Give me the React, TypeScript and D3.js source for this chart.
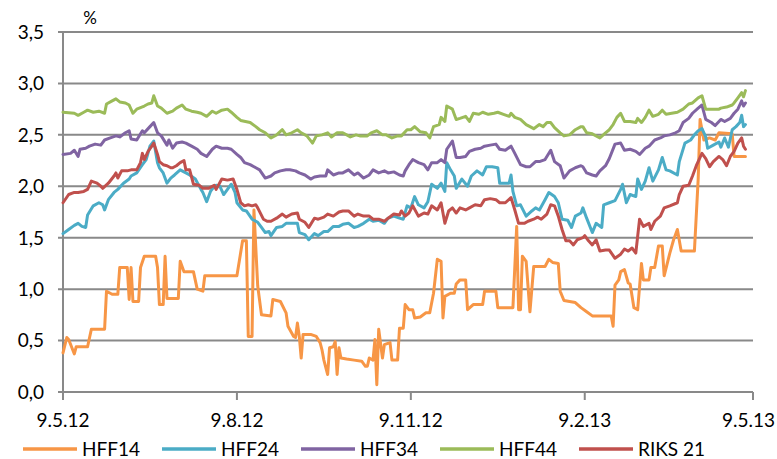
import React from "react";
import * as d3 from "d3";

// Day offsets from 9.5.2012 and yields (%)
const HFF14: [number, number][] = [[0,0.38],[2,0.53],[3,0.51],[6,0.37],[7,0.44],[13,0.44],[15,0.61],[22,0.61],[23,0.98],[26,0.95],[29,0.95],[30,1.21],[34,1.21],[35,0.90],[36,1.21],[37,0.88],[40,0.88],[41,1.21],[43,1.32],[49,1.32],[50,1.21],[51,0.85],[53,0.85],[54,1.32],[55,0.91],[61,0.91],[62,1.27],[64,1.17],[69,1.17],[71,1.00],[74,0.98],[75,1.13],[92,1.13],[95,1.47],[97,1.47],[98,0.54],[100,0.54],[101,1.77],[103,1.03],[105,0.75],[110,0.74],[111,0.90],[115,0.88],[118,0.77],[119,0.64],[122,0.54],[123,0.53],[124,0.67],[125,0.54],[126,0.33],[127,0.56],[131,0.56],[134,0.54],[136,0.48],[137,0.41],[138,0.31],[140,0.17],[141,0.43],[143,0.44],[144,0.49],[145,0.17],[146,0.43],[147,0.33],[150,0.32],[154,0.31],[158,0.30],[160,0.25],[161,0.25],[162,0.33],[164,0.31],[165,0.51],[166,0.07],[167,0.61],[169,0.33],[170,0.46],[173,0.48],[174,0.31],[177,0.31],[178,0.62],[180,0.62],[181,0.85],[183,0.80],[185,0.80],[186,0.72],[189,0.73],[192,0.77],[194,0.77],[196,0.96],[198,1.29],[200,1.27],[201,0.72],[202,0.93],[205,0.96],[207,0.96],[208,1.05],[210,1.09],[213,1.09],[214,0.80],[217,0.85],[222,0.85],[223,0.98],[229,0.98],[230,0.82],[238,0.82],[240,1.61],[241,0.80],[242,0.80],[243,1.32],[245,1.27],[247,0.78],[249,1.22],[255,1.22],[257,1.29],[259,1.26],[262,1.25],[263,0.98],[265,0.89],[268,0.88],[271,0.87],[274,0.82],[277,0.78],[280,0.74],[290,0.74],[291,0.64],[292,1.04],[294,1.09],[295,1.17],[297,1.19],[299,1.06],[300,1.05],[302,0.82],[304,0.80],[306,1.25],[307,1.09],[310,1.09],[311,1.21],[313,1.21],[315,1.42],[317,1.42],[318,1.13],[321,1.35],[323,1.48],[325,1.58],[327,1.37],[334,1.37],[336,2.07],[337,2.65],[339,2.45],[342,2.47],[345,2.45],[347,2.52],[354,2.51],[355,2.29],[361,2.29]];

const HFF24: [number, number][] = [[0,1.54],[3,1.58],[6,1.62],[8,1.64],[10,1.61],[12,1.60],[13,1.72],[16,1.81],[19,1.84],[21,1.82],[22,1.77],[24,1.87],[27,1.94],[29,1.97],[32,2.03],[35,2.07],[36,2.10],[39,2.13],[42,2.21],[44,2.26],[46,2.39],[48,2.44],[50,2.23],[51,2.18],[53,2.13],[55,2.03],[57,2.08],[59,2.11],[62,2.16],[65,2.13],[67,2.11],[70,2.07],[73,1.97],[74,1.94],[76,1.85],[78,1.95],[80,2.00],[81,2.01],[83,2.00],[85,1.92],[87,1.97],[89,2.02],[91,1.94],[92,1.84],[95,1.77],[97,1.76],[100,1.68],[103,1.65],[105,1.60],[107,1.55],[109,1.56],[110,1.52],[113,1.60],[116,1.61],[118,1.64],[121,1.64],[124,1.64],[125,1.55],[128,1.53],[130,1.48],[133,1.54],[135,1.52],[138,1.56],[140,1.56],[143,1.61],[146,1.61],[148,1.63],[151,1.64],[154,1.60],[156,1.61],[159,1.64],[162,1.68],[164,1.66],[167,1.67],[170,1.64],[172,1.69],[175,1.71],[178,1.69],[180,1.68],[182,1.81],[184,1.79],[186,1.90],[188,1.82],[191,1.79],[193,1.85],[195,2.02],[198,1.98],[200,2.03],[202,1.95],[203,2.23],[205,2.16],[207,2.10],[208,1.98],[211,2.07],[214,2.00],[216,2.10],[219,2.15],[222,2.11],[224,2.19],[227,2.19],[230,2.18],[231,2.03],[234,2.03],[236,2.03],[237,2.11],[238,1.95],[240,1.81],[242,1.82],[245,1.71],[248,1.76],[250,1.79],[252,1.77],[255,1.87],[257,1.94],[260,1.90],[262,1.84],[264,1.68],[267,1.67],[269,1.60],[271,1.71],[274,1.74],[275,1.79],[277,1.69],[280,1.55],[282,1.64],[285,1.60],[286,1.82],[289,1.84],[292,1.86],[295,1.97],[296,2.02],[298,1.84],[300,1.92],[303,1.90],[304,2.07],[306,1.97],[308,2.05],[310,2.18],[312,2.05],[315,2.16],[317,2.28],[319,2.16],[321,2.15],[325,2.11],[326,2.24],[329,2.42],[332,2.45],[334,2.50],[336,2.54],[338,2.56],[340,2.48],[341,2.37],[344,2.40],[347,2.43],[348,2.38],[350,2.47],[352,2.38],[354,2.55],[356,2.58],[358,2.62],[359,2.69],[360,2.58],[361,2.60]];

const HFF34: [number, number][] = [[0,2.31],[4,2.32],[6,2.35],[8,2.29],[9,2.36],[12,2.37],[14,2.39],[17,2.41],[20,2.40],[22,2.45],[25,2.47],[28,2.49],[30,2.48],[33,2.52],[35,2.54],[36,2.46],[39,2.45],[42,2.54],[43,2.52],[46,2.58],[48,2.62],[50,2.52],[52,2.49],[55,2.40],[56,2.45],[58,2.37],[60,2.42],[63,2.43],[65,2.42],[68,2.39],[71,2.36],[73,2.32],[76,2.29],[79,2.36],[81,2.39],[84,2.37],[87,2.37],[89,2.36],[92,2.31],[94,2.28],[96,2.23],[99,2.21],[102,2.18],[104,2.16],[107,2.08],[110,2.10],[112,2.13],[115,2.15],[118,2.16],[120,2.16],[123,2.15],[125,2.13],[128,2.11],[131,2.07],[133,2.09],[136,2.10],[139,2.10],[140,2.16],[143,2.11],[146,2.13],[148,2.13],[151,2.16],[154,2.11],[156,2.13],[159,2.08],[162,2.11],[164,2.16],[167,2.13],[170,2.15],[172,2.13],[175,2.14],[178,2.11],[180,2.10],[181,2.15],[183,2.21],[185,2.26],[188,2.23],[191,2.21],[193,2.16],[195,2.23],[198,2.23],[200,2.26],[202,2.23],[203,2.36],[206,2.44],[208,2.28],[210,2.28],[213,2.29],[215,2.34],[218,2.36],[221,2.37],[223,2.39],[226,2.40],[229,2.41],[231,2.36],[234,2.35],[237,2.39],[239,2.32],[242,2.21],[245,2.19],[247,2.19],[250,2.24],[252,2.24],[255,2.26],[258,2.35],[260,2.24],[263,2.20],[265,2.08],[268,2.15],[271,2.18],[274,2.20],[275,2.19],[277,2.13],[280,2.11],[282,2.10],[284,2.15],[287,2.20],[289,2.27],[292,2.41],[295,2.42],[297,2.35],[300,2.36],[303,2.34],[305,2.31],[308,2.37],[310,2.39],[313,2.45],[316,2.47],[318,2.49],[321,2.50],[324,2.52],[326,2.54],[328,2.62],[331,2.66],[333,2.71],[336,2.76],[338,2.79],[340,2.65],[343,2.62],[345,2.59],[348,2.65],[350,2.63],[353,2.66],[355,2.71],[357,2.75],[359,2.83],[360,2.78],[361,2.81]];

const HFF44: [number, number][] = [[0,2.72],[6,2.71],[8,2.69],[11,2.72],[13,2.74],[16,2.72],[19,2.73],[22,2.71],[23,2.80],[26,2.83],[28,2.85],[30,2.82],[33,2.81],[35,2.79],[37,2.71],[39,2.75],[43,2.78],[45,2.80],[47,2.81],[48,2.88],[50,2.78],[52,2.76],[55,2.71],[58,2.73],[60,2.76],[63,2.79],[65,2.75],[68,2.73],[71,2.72],[73,2.71],[76,2.68],[79,2.73],[81,2.71],[84,2.74],[87,2.75],[89,2.72],[92,2.67],[94,2.64],[99,2.62],[102,2.58],[104,2.55],[107,2.52],[110,2.47],[113,2.50],[116,2.55],[118,2.50],[121,2.52],[124,2.55],[126,2.52],[129,2.49],[132,2.42],[134,2.49],[137,2.50],[140,2.52],[142,2.48],[145,2.52],[148,2.52],[152,2.48],[155,2.50],[157,2.49],[161,2.49],[163,2.52],[166,2.54],[169,2.50],[171,2.50],[174,2.47],[177,2.49],[179,2.49],[182,2.55],[184,2.55],[186,2.58],[189,2.53],[192,2.52],[194,2.47],[196,2.58],[199,2.60],[200,2.67],[202,2.63],[203,2.78],[206,2.75],[208,2.65],[210,2.66],[213,2.68],[215,2.63],[217,2.71],[220,2.70],[222,2.72],[225,2.70],[228,2.71],[230,2.72],[233,2.70],[236,2.68],[237,2.71],[239,2.67],[242,2.65],[245,2.60],[247,2.58],[249,2.56],[252,2.60],[254,2.58],[256,2.62],[258,2.62],[260,2.57],[263,2.52],[265,2.49],[268,2.50],[271,2.55],[274,2.58],[275,2.58],[277,2.52],[280,2.51],[284,2.47],[287,2.52],[289,2.55],[291,2.60],[293,2.67],[295,2.71],[297,2.63],[300,2.63],[303,2.62],[304,2.66],[306,2.62],[308,2.67],[310,2.74],[312,2.68],[315,2.70],[317,2.74],[319,2.70],[322,2.71],[325,2.72],[328,2.75],[331,2.80],[333,2.81],[336,2.86],[338,2.88],[340,2.75],[343,2.75],[347,2.75],[348,2.76],[351,2.77],[354,2.79],[355,2.81],[357,2.86],[359,2.91],[360,2.87],[361,2.93]];

const RIKS21: [number, number][] = [[0,1.84],[3,1.92],[6,1.94],[8,1.94],[11,1.95],[13,1.97],[15,2.05],[18,2.03],[20,2.00],[21,1.98],[24,2.03],[27,2.10],[28,2.13],[29,2.08],[31,2.15],[34,2.15],[36,2.16],[39,2.16],[41,2.23],[42,2.32],[43,2.26],[45,2.34],[47,2.39],[48,2.42],[50,2.31],[51,2.24],[53,2.21],[55,2.20],[57,2.18],[58,2.18],[60,2.20],[62,2.23],[64,2.25],[65,2.16],[67,2.16],[69,2.02],[72,2.01],[74,1.98],[77,1.98],[80,2.01],[81,1.97],[84,2.07],[87,2.06],[90,2.07],[92,1.97],[94,1.84],[96,1.81],[98,1.82],[100,1.81],[102,1.82],[103,1.79],[106,1.68],[108,1.66],[110,1.66],[113,1.69],[116,1.73],[118,1.70],[121,1.73],[124,1.74],[125,1.68],[128,1.65],[130,1.60],[133,1.69],[135,1.68],[138,1.70],[140,1.73],[143,1.71],[146,1.75],[148,1.76],[151,1.76],[154,1.71],[156,1.73],[159,1.71],[162,1.71],[164,1.68],[167,1.68],[170,1.66],[172,1.69],[175,1.73],[178,1.72],[179,1.76],[181,1.71],[183,1.74],[185,1.81],[188,1.71],[191,1.74],[193,1.73],[195,1.81],[198,1.77],[200,1.84],[202,1.64],[204,1.76],[206,1.79],[208,1.74],[210,1.79],[213,1.77],[215,1.79],[218,1.82],[221,1.81],[223,1.87],[226,1.88],[229,1.87],[231,1.84],[234,1.84],[237,1.89],[239,1.77],[241,1.64],[244,1.64],[246,1.66],[249,1.68],[251,1.70],[253,1.68],[256,1.73],[258,1.82],[260,1.81],[262,1.71],[264,1.58],[266,1.47],[268,1.47],[270,1.43],[272,1.48],[275,1.50],[276,1.52],[278,1.47],[280,1.43],[282,1.48],[284,1.37],[287,1.38],[289,1.38],[292,1.30],[295,1.34],[297,1.39],[299,1.37],[301,1.40],[303,1.35],[305,1.68],[307,1.61],[310,1.64],[311,1.58],[313,1.66],[316,1.71],[318,1.79],[321,1.81],[325,1.84],[326,1.92],[328,2.00],[331,2.01],[333,2.10],[335,2.20],[338,2.32],[340,2.27],[342,2.19],[344,2.24],[347,2.29],[349,2.26],[351,2.20],[353,2.29],[355,2.34],[357,2.42],[359,2.47],[360,2.39],[361,2.36]];

const SERIES_NAMES = ["HFF14", "HFF24", "HFF34", "HFF44", "RIKS 21"];
const SERIES_DATA = [HFF14, HFF24, HFF34, HFF44, RIKS21];
const SERIES_COLORS = ["#F79646", "#4BACC6", "#8064A2", "#9BBB59", "#C0504D"];

const START_DATE = new Date(2012, 4, 9);
const END_DATE = new Date(2013, 4, 9);
const X_TICKS = [new Date(2012, 4, 9), new Date(2012, 7, 9), new Date(2012, 10, 9), new Date(2013, 1, 9), new Date(2013, 4, 9)];
const Y_TICKS = [0, 0.5, 1, 1.5, 2, 2.5, 3, 3.5];
const Y_UNIT = "%";

const W = 777;
const H = 459;
const M = { left: 63, right: 24, top: 32, bottom: 67 };
const FONT = "Lato, 'Open Sans', sans-serif";
const GRID = "#898989";

export default function App() {
  const x = d3.scaleTime().domain([START_DATE, END_DATE]).range([M.left, W - M.right]);
  const y = d3.scaleLinear().domain([0, 3.5]).range([H - M.bottom, M.top]);
  const fmtX = d3.timeFormat("%-d.%-m.%y");
  const fmtY = (v: number) => d3.format(".1f")(v).replace(".", ",");
  const line = d3
    .line<[number, number]>()
    .x((d) => x(d3.timeDay.offset(START_DATE, d[0])))
    .y((d) => y(d[1]));

  const legendStep = 139;
  const legendX0 = 23;
  const legendY = 449;
  const lastTick = X_TICKS.length - 1;

  return (
    <svg width={W} height={H} style={{ position: "absolute", left: 0, top: 0, background: "#fff" }} fontFamily={FONT}>
      {Y_TICKS.map((t) => (
        <g key={"g" + t}>
          <line x1={M.left - 5} x2={W - M.right} y1={y(t)} y2={y(t)} stroke={GRID} strokeWidth={2} />
          <text x={44} y={y(t)} dy="0.36em" textAnchor="end" fontSize={19} fill="#000">
            {fmtY(t)}
          </text>
        </g>
      ))}
      <line x1={M.left} x2={M.left} y1={y(3.5)} y2={y(0)} stroke={GRID} strokeWidth={2} />
      <text x={90} y={24} textAnchor="middle" fontSize={17} fill="#000">
        {Y_UNIT}
      </text>
      {X_TICKS.map((t, i) => (
        <g key={"x" + i}>
          <line x1={x(t)} x2={x(t)} y1={y(0)} y2={y(0) + 8} stroke={GRID} strokeWidth={2} />
          <text
            x={i === lastTick ? W - 2 : x(t)}
            y={427}
            textAnchor={i === lastTick ? "end" : "middle"}
            fontSize={19}
            fill="#000"
          >
            {fmtX(t)}
          </text>
        </g>
      ))}
      {SERIES_DATA.map((s, i) => (
        <path
          key={SERIES_NAMES[i]}
          d={line(s) || ""}
          fill="none"
          stroke={SERIES_COLORS[i]}
          strokeWidth={3}
          strokeLinejoin="round"
          strokeLinecap="round"
        />
      ))}
      {SERIES_NAMES.map((n, i) => {
        const lx = legendX0 + i * legendStep;
        return (
          <g key={"l" + n}>
            <line x1={lx} x2={lx + 54} y1={legendY} y2={legendY} stroke={SERIES_COLORS[i]} strokeWidth={3.5} />
            <text x={lx + 59} y={legendY} dy="0.36em" fontSize={19} fill="#000">
              {n}
            </text>
          </g>
        );
      })}
    </svg>
  );
}
